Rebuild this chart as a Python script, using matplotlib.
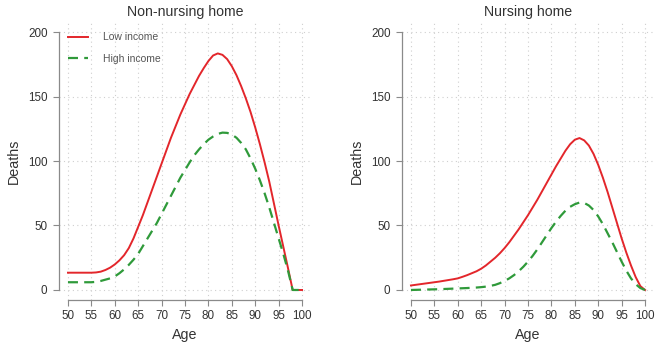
import numpy as np
import matplotlib
matplotlib.use("Agg")
import matplotlib.pyplot as plt

plt.rcParams['font.family'] = ['Liberation Sans', 'DejaVu Sans']

# --- Data (one value per year of age) ---
age = list(range(50, 101))

nonnh_low = [13.4, 13.4, 13.4, 13.4, 13.4, 13.4, 13.6, 14.2, 15.5, 17.3,
             19.8, 23, 27, 32.5, 40, 49, 58, 68, 78, 88,
             98, 108, 118, 127, 136, 144, 152, 159, 166, 172,
             177.5, 181.8, 183.4, 182.3, 179, 173.5, 166.5, 158, 148.5, 138,
             126, 113, 99, 84, 67, 50, 33.5, 17, 0, 0, 0]
nonnh_high = [6, 6, 6, 6, 6, 6, 6.3, 7, 8, 9,
              10.5, 13, 16, 19.5, 23.5, 28, 34, 40, 46, 52,
              59, 66, 73, 80, 87, 93, 99, 104.5, 109, 113,
              116.5, 119, 121, 122, 121.8, 120.5, 118, 114, 109, 102,
              94, 85, 75, 64, 52, 40, 28, 15, 0, 0, 0]

nh_low = [3.5, 4, 4.5, 5, 5.5, 6, 6.5, 7.1, 7.7, 8.3,
          9, 10.2, 11.5, 13, 14.5, 16.5, 19, 22, 25, 28.5,
          32.5, 37, 42, 47, 52.5, 58, 64, 70, 76.5, 83,
          89.5, 96, 102, 108, 113, 116.5, 117.8, 116, 112, 105.5,
          97, 87, 76, 64, 52, 40, 29, 19, 10, 3, 0]
nh_high = [0, 0.1, 0.2, 0.3, 0.4, 0.5, 0.6, 0.75, 0.9, 1.05,
           1.2, 1.35, 1.5, 1.7, 1.9, 2.2, 2.6, 3.2, 4, 5.3,
           7, 9, 11.5, 14.5, 18, 22, 26.5, 31.5, 37, 42.5,
           48, 53, 57.5, 61.5, 64.5, 66.5, 67.8, 67.5, 65.5, 62,
           57, 51, 44, 37, 29.5, 22, 15, 9, 4.5, 1.5, 0]

panels = [
    ("Non-nursing home", nonnh_low, nonnh_high),
    ("Nursing home", nh_low, nh_high),
]

xticks = np.arange(50, 101, 5)
yticks = [0, 50, 100, 150, 200]

RED = '#e3262b'
GREEN = '#2f9a3a'
AXCOL = '#8a8a8a'
TXT = '#333333'

W, H = 656, 346
fig = plt.figure(figsize=(W / 100, H / 100), dpi=100)

# axes boxes in pixels: left, top, right, bottom
boxes = [(58.6, 21.7, 311.4, 300.3), (401.6, 21.7, 654.4, 300.3)]

for (title, low, high), (l, t, r, b) in zip(panels, boxes):
    ax = fig.add_axes([l / W, (H - b) / H, (r - l) / W, (b - t) / H])
    ax.set_xlim(48, 102)
    ax.set_ylim(-8, 208)

    # dotted grid
    for xv in xticks:
        ax.axvline(xv, color='#cfcfcf', ls=(0, (1, 3)), lw=0.8, zorder=0)
    for yv in yticks:
        ax.axhline(yv, color='#cfcfcf', ls=(0, (1, 3)), lw=0.8, zorder=0)

    ax.plot(age, low, color=RED, lw=1.4, label='Low income', zorder=3)
    ax.plot(age, high, color=GREEN, lw=1.6, ls=(0, (4.5, 2.8)), label='High income', zorder=3)

    ax.set_xticks(xticks)
    ax.set_yticks(yticks)
    for s in ['top', 'right']:
        ax.spines[s].set_visible(False)
    ax.spines['left'].set_bounds(0, 200)
    ax.spines['bottom'].set_bounds(50, 100)
    for s in ['left', 'bottom']:
        ax.spines[s].set_color(AXCOL)
        ax.spines[s].set_linewidth(0.9)
    ax.tick_params(colors=AXCOL, labelcolor=TXT, labelsize=8.4, length=4.5, width=0.8)
    ax.tick_params(axis='x', pad=2.5)

    ax.set_title(title, fontsize=10.2, color=TXT, pad=4)
    ax.set_xlabel("Age", fontsize=10.3, color=TXT, labelpad=4)
    ax.set_ylabel("Deaths", fontsize=10.3, color=TXT, labelpad=5)

    if title == "Non-nursing home":
        leg = ax.legend(loc='upper left', bbox_to_anchor=(0.0, 0.995), frameon=False,
                        fontsize=7.5, handlelength=1.9, handletextpad=1.45,
                        labelspacing=1.1)
        for txt in leg.get_texts():
            txt.set_color('#555555')

fig.savefig('out.png', dpi=100)
